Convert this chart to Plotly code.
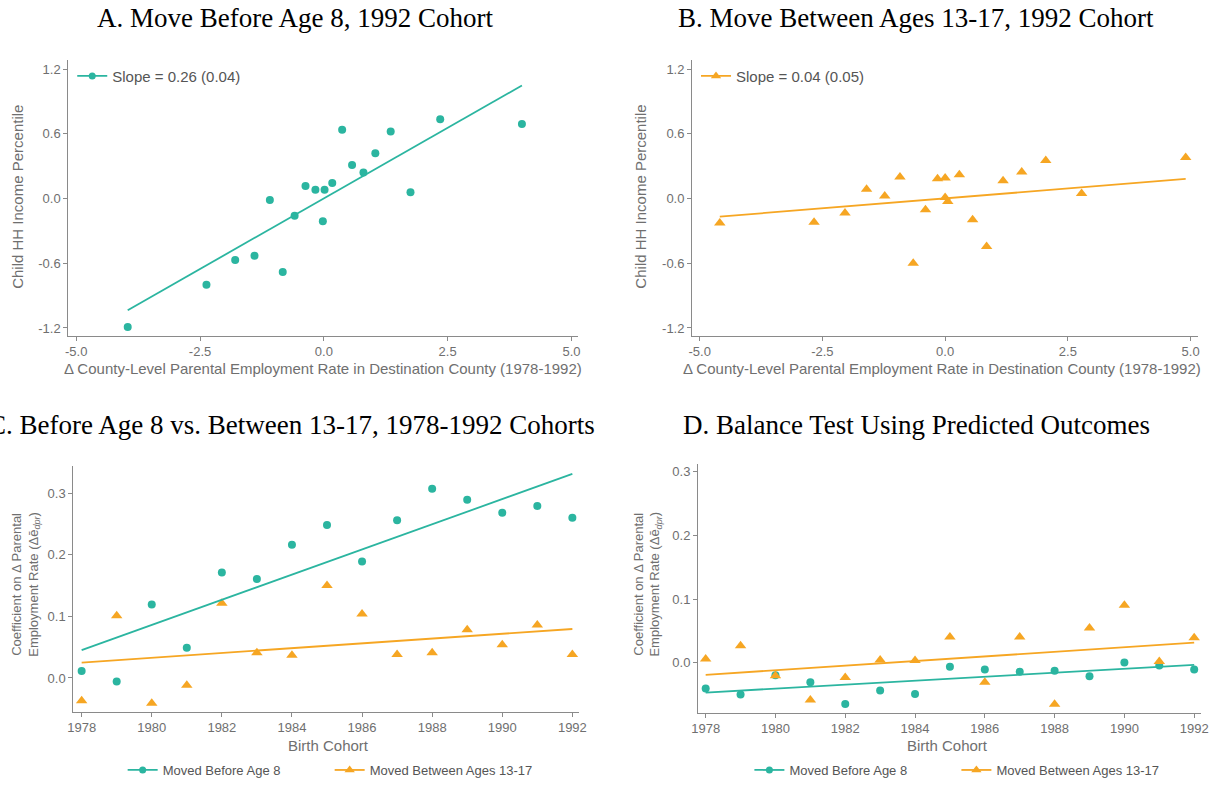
import plotly.graph_objects as go

W, H = 1222, 785
TEAL = "#2bb5a0"
ORANGE = "#f6a623"
GRAY_AX = "#8a8a8a"
GRAY_TXT = "#6f6f6f"

# ---------- Panel A data (Move before age 8, 1992 cohort) ----------
a_x = [-3.96, -2.37, -1.79, -1.40, -1.09, -0.83, -0.59, -0.37, -0.17, 0.015,
       -0.02, 0.17, 0.37, 0.57, 0.80, 1.04, 1.35, 1.75, 2.35, 4.00]
a_y = [-1.19, -0.80, -0.57, -0.53, -0.015, -0.68, -0.16, 0.116, 0.08, 0.08,
       -0.21, 0.144, 0.637, 0.31, 0.24, 0.42, 0.62, 0.058, 0.735, 0.69]
a_fit_x = [-3.96, 4.00]
a_fit_y = [-1.035, 1.047]

# ---------- Panel B data (Move between 13-17, 1992 cohort) ----------
b_x = [-4.59, -2.67, -2.04, -1.60, -1.23, -0.92, -0.65, -0.40, -0.155, 0.0,
       0.0, 0.054, 0.29, 0.56, 0.845, 1.18, 1.56, 2.05, 2.78, 4.90]
b_y = [-0.226, -0.22, -0.135, 0.086, 0.024, 0.20, -0.60, -0.104, 0.184, 0.19,
       0.009, -0.028, 0.22, -0.196, -0.444, 0.165, 0.245, 0.352, 0.046, 0.38]
b_fit_x = [-4.59, 4.90]
b_fit_y = [-0.168, 0.181]

# ---------- Panels C & D data (by birth cohort) ----------
cohorts = list(range(1978, 1993))
c_before8 = [0.0113, -0.0059, 0.119, 0.049, 0.171, 0.1605, 0.216, 0.248,
             0.189, 0.256, 0.307, 0.289, 0.268, 0.279, 0.260]
c_13_17 = [-0.037, 0.101, -0.041, -0.012, 0.121, 0.041, 0.037, 0.150,
           0.1036, 0.038, 0.041, 0.078, 0.054, 0.086, 0.038]
c_fit_x = [1978, 1992]
c_fit_before8 = [0.045, 0.331]
c_fit_13_17 = [0.025, 0.0794]

d_before8 = [-0.0405, -0.050, -0.0195, -0.0305, -0.0647, -0.0437, -0.049, -0.0063,
             -0.0105, -0.0142, -0.0126, -0.021, 0.0005, -0.0042, -0.0105]
d_13_17 = [0.0058, 0.0268, -0.0205, -0.0584, -0.023, 0.0042, 0.0037, 0.0405,
           -0.0305, 0.0405, -0.065, 0.0547, 0.0905, 0.0021, 0.0395]
d_fit_x = [1978, 1992]
d_fit_before8 = [-0.0468, -0.0032]
d_fit_13_17 = [-0.019, 0.0316]

# ---------- Tick labels ----------
ab_xvals = [-5, -2.5, 0, 2.5, 5]
ab_xtext = ["-5.0", "-2.5", "0.0", "2.5", "5.0"]
ab_yvals = [1.2, 0.6, 0, -0.6, -1.2]
ab_ytext = ["1.2", "0.6", "0.0", "-0.6", "-1.2"]
cd_xvals = list(range(1978, 1993, 2))
cd_xtext = [str(v) for v in cd_xvals]
cd_yvals = [0, 0.1, 0.2, 0.3]
cd_ytext = ["0.0", "0.1", "0.2", "0.3"]

titles = ["A. Move Before Age 8, 1992 Cohort",
          "B. Move Between Ages 13-17, 1992 Cohort",
          "C. Before Age 8 vs. Between 13-17, 1978-1992 Cohorts",
          "D. Balance Test Using Predicted Outcomes"]
slope_labels = ["Slope = 0.26 (0.04)", "Slope = 0.04 (0.05)"]
series_names = ["Moved Before Age 8", "Moved Between Ages 13-17"]
ab_xtitle = "Δ County-Level Parental Employment Rate in Destination County (1978-1992)"
ab_ytitle = "Child HH Income Percentile"
cd_xtitle = "Birth Cohort"
cd_ytitle = "Coefficient on Δ Parental<br>Employment Rate (Δē<sub><i>dpr</i></sub>)"


def fx(px):
    return px / W


def fy(py):
    return 1 - py / H


fig = go.Figure()

circ = dict(symbol="circle", size=8, color=TEAL)
tri = dict(symbol="triangle-up", size=10, color=ORANGE)

# Panel A
fig.add_trace(go.Scatter(x=a_x, y=a_y, mode="markers", marker=circ, xaxis="x", yaxis="y", showlegend=False))
fig.add_trace(go.Scatter(x=a_fit_x, y=a_fit_y, mode="lines", line=dict(color=TEAL, width=1.8),
                         xaxis="x", yaxis="y", showlegend=False))
fig.add_trace(go.Scatter(x=[None], y=[None], mode="lines+markers", marker=dict(circ, size=7),
                         line=dict(color=TEAL, width=1.8), name=slope_labels[0],
                         xaxis="x", yaxis="y", legend="legend"))
# Panel B
fig.add_trace(go.Scatter(x=b_x, y=b_y, mode="markers", marker=tri, xaxis="x2", yaxis="y2", showlegend=False))
fig.add_trace(go.Scatter(x=b_fit_x, y=b_fit_y, mode="lines", line=dict(color=ORANGE, width=1.8),
                         xaxis="x2", yaxis="y2", showlegend=False))
fig.add_trace(go.Scatter(x=[None], y=[None], mode="lines+markers", marker=dict(tri, size=9),
                         line=dict(color=ORANGE, width=1.8), name=slope_labels[1],
                         xaxis="x2", yaxis="y2", legend="legend2"))

# Panels C & D
for (xa, ya, lg, fit_x, yb, yo, fb, fo) in [
        ("x3", "y3", "legend3", c_fit_x, c_before8, c_13_17, c_fit_before8, c_fit_13_17),
        ("x4", "y4", "legend4", d_fit_x, d_before8, d_13_17, d_fit_before8, d_fit_13_17)]:
    fig.add_trace(go.Scatter(x=cohorts, y=yb, mode="markers", marker=circ, xaxis=xa, yaxis=ya, showlegend=False))
    fig.add_trace(go.Scatter(x=cohorts, y=yo, mode="markers", marker=tri, xaxis=xa, yaxis=ya, showlegend=False))
    fig.add_trace(go.Scatter(x=fit_x, y=fb, mode="lines", line=dict(color=TEAL, width=1.8),
                             xaxis=xa, yaxis=ya, showlegend=False))
    fig.add_trace(go.Scatter(x=fit_x, y=fo, mode="lines", line=dict(color=ORANGE, width=1.8),
                             xaxis=xa, yaxis=ya, showlegend=False))
    fig.add_trace(go.Scatter(x=[None], y=[None], mode="lines+markers", marker=dict(circ, size=7),
                             line=dict(color=TEAL, width=1.8), name=series_names[0],
                             xaxis=xa, yaxis=ya, legend=lg))
    fig.add_trace(go.Scatter(x=[None], y=[None], mode="lines+markers", marker=dict(tri, size=9),
                             line=dict(color=ORANGE, width=1.8), name=series_names[1],
                             xaxis=xa, yaxis=ya, legend=lg))

axis_common = dict(showline=True, linecolor=GRAY_AX, linewidth=1, showgrid=False, zeroline=False,
                   ticks="outside", ticklen=4, tickcolor=GRAY_AX, tickmode="array",
                   tickfont=dict(family="Liberation Sans, Arial, sans-serif", size=13, color=GRAY_TXT))

# domains in pixels ((left, right), (top, bottom))
dom = {
    "A": ((62, 578), (61, 339)),
    "B": ((693, 1205), (61, 339)),
    "C": ((67, 579), (471, 719)),
    "D": ((699, 1208), (469, 720)),
}


def xd(k):
    return [fx(dom[k][0][0]), fx(dom[k][0][1])]


def yd(k):
    return [fy(dom[k][1][1]), fy(dom[k][1][0])]


leg_font_big = dict(family="Liberation Sans, Arial, sans-serif", size=15, color="#555555")
leg_font = dict(family="Liberation Sans, Arial, sans-serif", size=13, color="#555555")

fig.update_layout(
    width=W, height=H, margin=dict(l=0, r=0, t=0, b=0),
    paper_bgcolor="white", plot_bgcolor="white",
    font=dict(family="Liberation Sans, Arial, sans-serif", color=GRAY_TXT),
    xaxis=dict(axis_common, domain=xd("A"), anchor="y", range=[-5.16, 5.14], tickvals=ab_xvals, ticktext=ab_xtext),
    yaxis=dict(axis_common, domain=yd("A"), anchor="x", range=[-1.27, 1.28], tickvals=ab_yvals, ticktext=ab_ytext),
    xaxis2=dict(axis_common, domain=xd("B"), anchor="y2", range=[-5.155, 5.155], tickvals=ab_xvals, ticktext=ab_xtext),
    yaxis2=dict(axis_common, domain=yd("B"), anchor="x2", range=[-1.27, 1.28], tickvals=ab_yvals, ticktext=ab_ytext),
    xaxis3=dict(axis_common, domain=xd("C"), anchor="y3", range=[1977.76, 1992.2], tickvals=cd_xvals, ticktext=cd_xtext),
    yaxis3=dict(axis_common, domain=yd("C"), anchor="x3", range=[-0.0547, 0.3435], tickvals=cd_yvals, ticktext=cd_ytext),
    xaxis4=dict(axis_common, domain=xd("D"), anchor="y4", range=[1977.78, 1992.2], tickvals=cd_xvals, ticktext=cd_xtext),
    yaxis4=dict(axis_common, domain=yd("D"), anchor="x4", range=[-0.0784, 0.312], tickvals=cd_yvals, ticktext=cd_ytext),
    legend=dict(x=fx(66), y=fy(77), xanchor="left", yanchor="middle", bgcolor="rgba(0,0,0,0)",
                font=leg_font_big),
    legend2=dict(x=fx(697), y=fy(77), xanchor="left", yanchor="middle", bgcolor="rgba(0,0,0,0)",
                 font=leg_font_big),
    legend3=dict(x=fx(117), y=fy(778), xanchor="left", yanchor="middle", orientation="h",
                 entrywidth=162, bgcolor="rgba(0,0,0,0)", font=leg_font),
    legend4=dict(x=fx(751), y=fy(778), xanchor="left", yanchor="middle", orientation="h",
                 entrywidth=162, bgcolor="rgba(0,0,0,0)", font=leg_font),
)

title_font = dict(family="Liberation Serif, Times New Roman, serif", size=27, color="black")
title_pos = [(291, 18), (920, 18), (288, 429), (920, 429)]
for t, (px, py) in zip(titles, title_pos):
    fig.add_annotation(text=t, x=fx(px), y=fy(py), xref="paper", yref="paper",
                       xanchor="center", yanchor="middle", showarrow=False, font=title_font)

lab_font = dict(family="Liberation Sans, Arial, sans-serif", size=15, color=GRAY_TXT)
# x-axis titles
for (t, px, py) in [(ab_xtitle, 320, 372), (ab_xtitle, 946, 372),
                    (cd_xtitle, 325, 753), (cd_xtitle, 951, 753)]:
    fig.add_annotation(text=t, x=fx(px), y=fy(py), xref="paper", yref="paper",
                       xanchor="center", yanchor="middle", showarrow=False, font=lab_font)
# y-axis titles
for (t, px, py, sz) in [(ab_ytitle, 11, 199, 15), (ab_ytitle, 641, 199, 15),
                        (cd_ytitle, 19, 590, 13), (cd_ytitle, 648, 590, 13)]:
    fig.add_annotation(text=t, x=fx(px), y=fy(py), xref="paper", yref="paper", textangle=-90,
                       xanchor="center", yanchor="middle", showarrow=False,
                       font=dict(lab_font, size=sz))

fig.write_html("out.html", config={"displayModeBar": False},
               post_script="document.body.style.margin='0';document.body.style.overflow='hidden';")
